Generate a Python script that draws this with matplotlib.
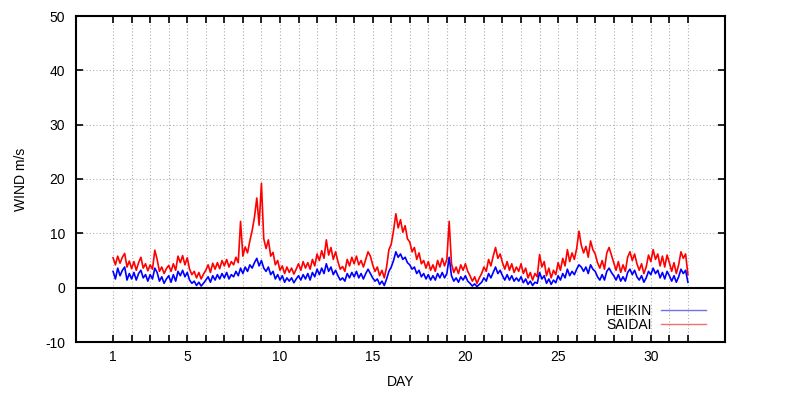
import numpy as np
import matplotlib
matplotlib.use("Agg")
import matplotlib.pyplot as plt
from matplotlib.lines import Line2D

plt.rcParams['font.family'] = ['Liberation Sans', 'DejaVu Sans']
plt.rcParams['axes.unicode_minus'] = False

# sampling: 8 readings per day, starting day 1.0, last reading at day 32.0
samples_per_day = 8
start_day = 1.0

saidai = [
    5.5, 4.2, 5.8, 4.5, 5.6, 6.3, 3.8, 4.9,
    3.5, 4.8, 3.2, 4.6, 5.6, 3.6, 4.4, 3.1,
    4.2, 3.4, 6.9, 5.2, 3.0, 3.8, 2.6, 3.5,
    4.1, 3.0, 4.4, 3.2, 5.8, 4.6, 5.9, 4.2,
    5.5, 3.4, 2.4, 3.0, 1.8, 2.8, 1.6, 2.5,
    3.2, 4.2, 2.8, 4.5, 3.4, 4.6, 3.5, 5.0,
    4.0, 5.2, 3.8, 4.8, 4.2, 5.6, 4.6, 12.2,
    5.8, 7.5, 6.4, 8.6, 10.5, 13.0, 16.5, 11.5,
    19.2, 9.0, 7.2, 8.8, 5.8, 6.5, 4.2, 5.0,
    3.2, 4.0, 2.6, 3.8, 2.8, 3.6, 2.5, 3.4,
    4.4, 3.2, 4.8, 3.6, 4.6, 3.4, 5.2, 4.0,
    6.2, 5.0, 6.8, 5.4, 8.8, 6.0, 7.4, 5.2,
    6.6, 4.8, 3.4, 3.9, 3.0, 5.2, 4.0, 5.6,
    4.4, 5.8, 4.2, 5.0, 3.8, 5.2, 6.6, 5.8,
    4.2, 3.0, 3.8, 2.2, 3.2, 1.8, 3.8, 7.0,
    8.0, 10.5, 13.6, 11.0, 12.5, 10.2, 11.4, 9.0,
    8.4, 6.6, 7.4, 5.2, 6.4, 4.4, 5.0, 3.6,
    4.8, 3.2, 4.2, 3.0, 5.0, 3.8, 5.4, 4.0,
    5.2, 12.2, 4.4, 2.8, 3.8, 2.6, 4.2, 3.2,
    4.4, 3.0, 2.2, 1.2, 2.0, 0.8, 1.8, 2.6,
    3.8, 3.0, 5.2, 4.0, 5.8, 7.4, 5.4, 6.2,
    4.6, 3.4, 4.8, 3.2, 4.4, 2.8, 3.8, 3.0,
    4.4, 2.6, 3.6, 1.8, 2.8, 1.4, 2.6, 2.0,
    6.1, 3.8, 4.8, 2.2, 3.6, 1.8, 3.2, 2.4,
    4.6, 3.2, 5.4, 4.0, 7.0, 4.8, 6.4, 5.2,
    7.2, 10.4, 7.8, 6.4, 7.6, 5.6, 8.6, 7.0,
    6.2, 4.6, 3.6, 5.0, 3.4, 6.4, 7.4, 6.0,
    4.6, 3.2, 4.8, 2.8, 4.2, 3.0, 5.6, 6.6,
    5.0, 6.2, 4.4, 3.2, 4.4, 2.6, 3.8, 6.0,
    4.8, 7.0, 5.2, 6.2, 4.0, 5.8, 3.8, 6.0,
    4.6, 3.0, 4.6, 2.6, 4.2, 6.6, 5.4, 6.2,
    2.4,
]

heikin = [
    3.0, 1.6, 3.6, 2.2, 3.2, 3.8, 1.4, 2.6,
    1.6, 2.8, 1.4, 2.6, 3.2, 1.8, 2.4, 1.2,
    2.4, 1.6, 3.6, 2.8, 1.2, 2.0, 0.8, 1.6,
    2.2, 1.0, 2.4, 1.2, 3.0, 2.2, 3.2, 2.0,
    2.8, 1.4, 0.8, 1.2, 0.4, 1.0, 0.3, 0.8,
    1.4, 2.0, 1.0, 2.2, 1.4, 2.4, 1.6, 2.6,
    1.8, 2.8, 1.6, 2.4, 2.0, 3.0, 2.2, 3.6,
    2.6, 3.8, 3.0, 4.2, 3.6, 4.6, 5.4, 4.0,
    5.0, 3.6, 3.0, 3.8, 2.4, 3.0, 1.6, 2.4,
    1.4, 2.2, 1.0, 1.8, 1.2, 1.8, 0.9, 1.6,
    2.2, 1.4, 2.4, 1.6, 2.6, 1.4, 2.8, 2.0,
    3.4, 2.4, 3.6, 2.6, 4.4, 3.0, 3.8, 2.4,
    3.2, 2.2, 1.4, 1.8, 1.2, 2.6, 1.8, 2.8,
    2.0, 3.0, 1.8, 2.6, 1.6, 2.6, 3.4, 2.6,
    1.8, 1.2, 1.6, 0.6, 1.2, 0.4, 1.6, 3.0,
    3.8, 5.0, 6.6, 5.6, 6.2, 5.2, 5.6, 4.6,
    4.2, 3.4, 3.8, 2.6, 3.2, 2.0, 2.6, 1.6,
    2.4, 1.4, 2.2, 1.4, 2.6, 1.8, 2.8, 1.8,
    2.6, 5.6, 2.2, 1.2, 1.8, 1.0, 2.0, 1.4,
    2.2, 1.2, 0.8, 0.3, 0.7, 0.2, 0.6, 1.0,
    1.8, 1.2, 2.6, 1.8, 2.8, 3.8, 2.6, 3.2,
    2.2, 1.4, 2.4, 1.4, 2.2, 1.2, 1.8, 1.2,
    2.0, 0.9, 1.6, 0.6, 1.2, 0.4, 1.0, 0.8,
    2.8, 1.6, 2.2, 0.8, 1.6, 0.6, 1.4, 0.9,
    2.2, 1.4, 2.6, 1.8, 3.4, 2.2, 3.0, 2.4,
    3.4, 4.2, 3.8, 3.0, 3.8, 2.6, 4.2, 3.4,
    3.0, 2.0, 1.4, 2.4, 1.4, 3.0, 3.6, 2.8,
    2.2, 1.4, 2.4, 1.2, 2.0, 1.2, 2.8, 3.4,
    2.4, 3.2, 2.0, 1.4, 2.2, 1.0, 1.8, 3.0,
    2.4, 3.6, 2.6, 3.2, 1.8, 2.8, 1.6, 3.0,
    2.2, 1.2, 2.2, 1.0, 2.0, 3.4, 2.6, 3.2,
    1.0,
]

x_tick_labels = ['1', '5', '10', '15', '20', '25', '30']
y_ticks = [-10, 0, 10, 20, 30, 40, 50]

days = start_day + np.arange(len(saidai)) / samples_per_day

fig = plt.figure(figsize=(7.95, 4.0), dpi=100)
ax = fig.add_axes([76 / 795, 1 - 342 / 400, (725 - 76) / 795, (342 - 16) / 400])

ax.plot(days, saidai, color='#ff0000', lw=1.2, zorder=3)
ax.plot(days, heikin, color='#0000ff', lw=1.2, zorder=4)
ax.axhline(0, color='black', lw=1.5, zorder=5)

ax.set_xlim(-1, 34)
ax.set_ylim(-10, 50)

day_ticks = np.arange(1, 33)
ax.set_xticks(day_ticks)
lab_map = {int(s): s for s in x_tick_labels}
ax.set_xticklabels([lab_map.get(int(d), '') for d in day_ticks])
ax.set_yticks(y_ticks)

ax.tick_params(direction='in', length=5, width=1.2, top=True, right=True,
               labelsize=10, colors='black', pad=6)
ax.tick_params(axis='y', pad=8)
ax.grid(True, color='#b0b0b0', linestyle=(0, (1, 2)), lw=0.8)
for s in ax.spines.values():
    s.set_linewidth(1.5)

ax.set_xlabel('DAY', fontsize=10, labelpad=8)
ax.set_ylabel('WIND m/s', fontsize=10, labelpad=12)

handles = [Line2D([], [], color='#7070f0', lw=1.0), Line2D([], [], color='#f07070', lw=1.0)]
ax.legend(handles, ['HEIKIN', 'SAIDAI'], loc='lower right', frameon=False,
          markerfirst=False, fontsize=10, handlelength=3.2, handletextpad=0.7,
          labelspacing=0.0, borderaxespad=0.0, bbox_to_anchor=(0.979, 0.015))

fig.savefig('out.png', dpi=100)
